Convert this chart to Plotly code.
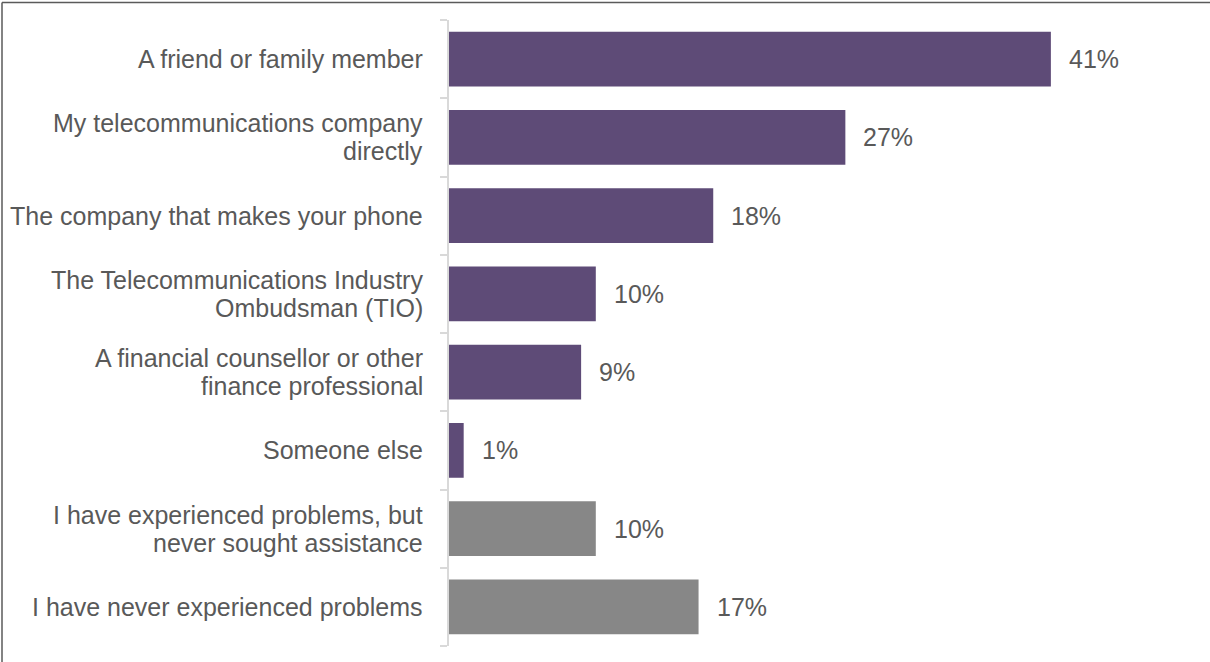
import plotly.graph_objects as go

# Survey responses: where people went for help with phone / telco problems
categories = [
    "A friend or family member",
    "My telecommunications company\ndirectly",
    "The company that makes your phone",
    "The Telecommunications Industry\nOmbudsman (TIO)",
    "A financial counsellor or other\nfinance professional",
    "Someone else",
    "I have experienced problems, but\nnever sought assistance",
    "I have never experienced problems",
]
values = [41, 27, 18, 10, 9, 1, 10, 17]
sought_help = [True, True, True, True, True, True, False, False]

PURPLE = "#5e4b77"
GREY = "#878787"
TEXT = "#595959"
AXIS = "#d9d9d9"
FONT = "Liberation Sans, Arial, sans-serif"

W, H = 1210, 662
M_L, M_R, M_T, M_B = 449, 0, 20, 16
PX_PER_UNIT = 14.68
plot_w = W - M_L - M_R
x_max = plot_w / PX_PER_UNIT

bar_colors = [PURPLE if s else GREY for s in sought_help]

fig = go.Figure(
    go.Bar(
        x=values,
        y=list(range(len(categories))),
        orientation="h",
        marker=dict(color=bar_colors, line=dict(width=0)),
        hoverinfo="skip",
    )
)

annotations = []
LINE_H = 28
for i, (cat, v) in enumerate(zip(categories, values)):
    # category label, one annotation per line for tighter line spacing
    lines = cat.split("\n")
    n = len(lines)
    for j, line in enumerate(lines):
        offset = ((n - 1) / 2 - j) * LINE_H
        annotations.append(dict(
            x=0, xref="paper", y=i, yref="y",
            text=line, showarrow=False,
            xanchor="right", yanchor="middle",
            xshift=-24, yshift=offset,
            font=dict(family=FONT, size=25, color=TEXT),
        ))
    # value label beside the bar
    annotations.append(dict(
        x=v, xref="x", y=i, yref="y",
        text=f"{v}%", showarrow=False,
        xanchor="left", yanchor="middle",
        xshift=16,
        font=dict(family=FONT, size=25, color=TEXT),
    ))

# chart frame: left and top edges of the surrounding box
fx0 = (2 - M_L) / plot_w
fy_top = 1 + (M_T - 2.5) / (H - M_T - M_B)
frame = [
    dict(type="line", xref="paper", yref="paper",
         x0=fx0, x1=fx0, y0=-1, y1=fy_top,
         line=dict(color="#5a5a5a", width=1.5)),
    dict(type="line", xref="paper", yref="paper",
         x0=fx0, x1=2, y0=fy_top, y1=fy_top,
         line=dict(color="#5a5a5a", width=1.5)),
]

fig.update_layout(
    width=W, height=H,
    margin=dict(l=M_L, r=M_R, t=M_T, b=M_B),
    paper_bgcolor="white", plot_bgcolor="white",
    bargap=0.3,
    showlegend=False,
    annotations=annotations,
    shapes=frame,
    xaxis=dict(range=[0, x_max], visible=False, fixedrange=True),
    yaxis=dict(
        type="linear",
        range=[len(categories) - 0.5, -0.5],
        showticklabels=False,
        showgrid=False, zeroline=False,
        showline=True, linecolor=AXIS, linewidth=1.5,
        ticks="outside", ticklen=7, tickcolor=AXIS, tickwidth=1.5,
        tickvals=[k - 0.5 for k in range(len(categories) + 1)],
        fixedrange=True,
    ),
)

fig.write_html("out.html", config={"displayModeBar": False})
